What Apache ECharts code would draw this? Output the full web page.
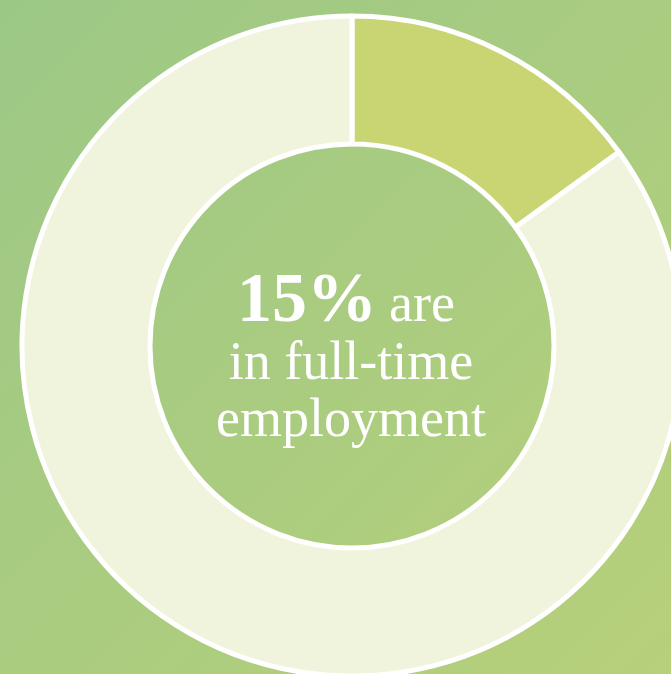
<!DOCTYPE html>
<html><head><meta charset="utf-8">
<script src="https://cdn.jsdelivr.net/npm/echarts@6/dist/echarts.min.js"></script>
<style>html,body{margin:0;padding:0;}#c{width:671px;height:674px;}</style>
</head><body><div id="c"></div>
<script>
const categories = ['Full-time employment', 'Other'];
const values = [15, 85];
const segmentColors = ['#c8d572', '#f0f4dc'];
const headline = '15%';
const lines = ['are', 'in full-time', 'employment'];

const serif = 'Liberation Serif';
function txt(text, x, baseline, size, weight, align) {
  return {
    type: 'text', x: x, y: baseline + Math.round(size * 0.216),
    style: {text: text, fill: '#ffffff', font: weight + ' ' + size + 'px "' + serif + '"',
      textAlign: align, textVerticalAlign: 'bottom', align: align, verticalAlign: 'bottom'}
  };
}

const chart = echarts.init(document.getElementById('c'), null, {renderer: 'canvas'});
chart.setOption({
  backgroundColor: {type: 'linear', x: 0, y: 0, x2: 1, y2: 1,
    colorStops: [{offset: 0, color: '#9cc886'}, {offset: 1, color: '#b7d07a'}]},
  animation: false,
  series: [{
    type: 'pie',
    center: [352, 346],
    radius: [202, 330],
    startAngle: 90,
    clockwise: true,
    label: {show: false},
    labelLine: {show: false},
    emphasis: {disabled: true},
    itemStyle: {borderColor: '#ffffff', borderWidth: 5},
    data: categories.map((n, i) => ({name: n, value: values[i], itemStyle: {color: segmentColors[i]}}))
  }],
  graphic: [
    txt(headline, 237, 323, 70, 'bold', 'left'),
    txt(lines[0], 389, 322, 54, 'normal', 'left'),
    txt(lines[1], 351, 380, 54, 'normal', 'center'),
    txt(lines[2], 351, 437, 54, 'normal', 'center')
  ]
});
</script></body></html>
